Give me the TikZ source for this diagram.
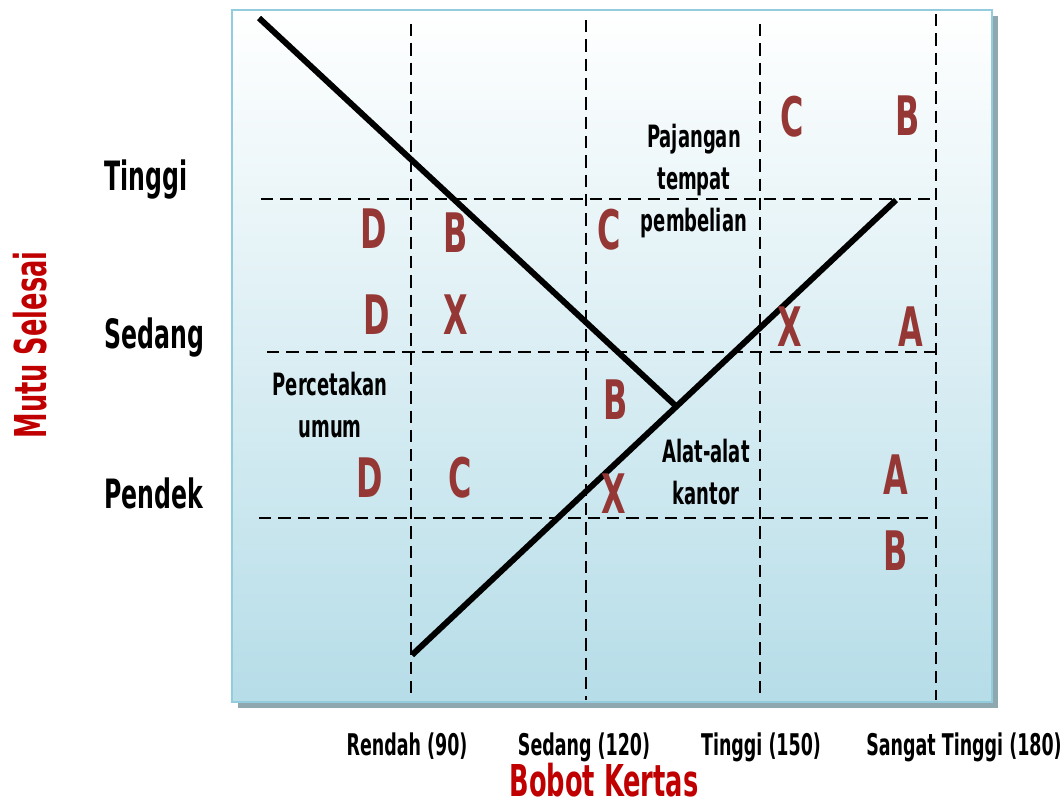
\documentclass[tikz,border=0pt]{standalone}
\usepackage{fontspec}
\newfontfamily\agency[FakeStretch=0.65]{DejaVu Sans Condensed}
\usepackage{tikz}
\definecolor{GradeRed}{HTML}{953735}
\definecolor{AxisRed}{HTML}{C00000}
\definecolor{PanelBottom}{HTML}{B6DDE8}
\definecolor{PanelBorder}{HTML}{93CDDD}
\definecolor{PanelShadow}{HTML}{8FA8B0}

\begin{document}
\begin{tikzpicture}[
  x=0.02cm, y=-0.02cm,
  grade/.style={
    text=GradeRed,
    font=\agency\bfseries\fontsize{31}{31}\selectfont,
    inner sep=0pt},
  region/.style={
    align=center,
    font=\agency\bfseries\fontsize{17.5}{24}\selectfont,
    inner sep=0pt},
  level/.style={
    anchor=base west,
    font=\agency\bfseries\fontsize{23}{23}\selectfont,
    inner sep=0pt},
  weight/.style={
    anchor=base,
    font=\agency\bfseries\fontsize{17}{17}\selectfont,
    inner sep=0pt},
  axistitle/.style={
    text=AxisRed,
    font=\agency\bfseries\fontsize{25}{25}\selectfont,
    inner sep=0pt},
  gridline/.style={
    dash pattern=on 7pt off 4pt,
    line width=1.1pt},
  boundary/.style={
    line width=3.4pt},
]

\useasboundingbox (0,0) rectangle (1064,805);

% panel with its shadow
\fill[PanelShadow] (238,16) rectangle (998,708);
\shadedraw[top color=white, bottom color=PanelBottom,
           draw=PanelBorder, line width=1.5pt]
  (232,10) rectangle (992,702);

% dashed grid
\foreach \gx/\gtop in {411/24, 586/20, 760/24, 936/14}
  \draw[gridline] (\gx,\gtop) -- (\gx,700);
\foreach \gy/\gleft/\gright in {199/261/930, 352/267/936, 518/259/936}
  \draw[gridline] (\gleft,\gy) -- (\gright,\gy);

% boundary lines
\coordinate (topstart) at (259,18);
\coordinate (apex)     at (677,407);
\coordinate (lowstart) at (412,655);
\coordinate (highend)  at (896,200);
\draw[boundary] (topstart) -- (apex);
\draw[boundary] (lowstart) -- (highend);

% grades
\foreach \gx/\gy/\gl [count=\i] in {
    792/117/C, 908/116/B,
    374/229/D, 456/233/B, 609/230/C,
    377/315/D, 456/315/X, 790/327/X, 911/327/A,
    616/400/B,
    370/478/D, 460/478/C, 614/494/X, 896/475/A,
    896/551/B}
  \node[grade] (grade\i) at (\gx,\gy) {\gl};

% regions
\node[region] (display)  at (694,181) {Pajangan\\tempat\\pembelian};
\node[region] (printing) at (330,405) {Percetakan\\umum};
\node[region] (office)   at (706,472) {Alat-alat\\kantor};

% quality levels
\node[level] (lvhigh) at (104,190) {Tinggi};
\node[level] (lvmid)  at (104,348) {Sedang};
\node[level] (lvlow)  at (104,508) {Pendek};

% paper weights
\node[weight] (wlow)      at (407,755) {Rendah (90)};
\node[weight] (wmid)      at (584,755) {Sedang (120)};
\node[weight] (whigh)     at (761,755) {Tinggi (150)};
\node[weight] (wveryhigh) at (964,755) {Sangat Tinggi (180)};

% axis titles
\node[axistitle, anchor=base] (xtitle) at (604,796) {Bobot Kertas};
\node[axistitle, rotate=90] (ytitle) at (30,345) {Mutu Selesai};

\end{tikzpicture}
\end{document}
